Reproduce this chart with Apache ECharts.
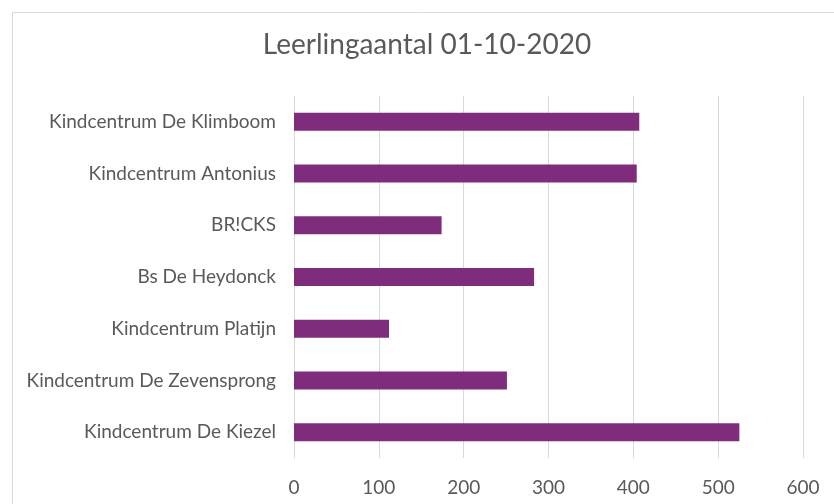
<!DOCTYPE html>
<html>
<head>
<meta charset="utf-8">
<script src="https://cdn.jsdelivr.net/npm/echarts@6/dist/echarts.min.js"></script>
<style>html,body{margin:0;padding:0;background:#fff}#c{width:834px;height:504px}</style>
</head>
<body>
<div id="c"></div>
<script>
const categories = ["Kindcentrum De Klimboom","Kindcentrum Antonius","BR!CKS","Bs De Heydonck","Kindcentrum Platijn","Kindcentrum De Zevensprong","Kindcentrum De Kiezel"];
const values = [407, 404, 174, 283, 112, 251, 525];
const xTicks = [0, 100, 200, 300, 400, 500, 600];
const titleText = "Leerlingaantal 01-10-2020";

const chart = echarts.init(document.getElementById('c'), null, {renderer: 'canvas'});
chart.setOption({
  animation: false,
  backgroundColor: '#fff',
  title: {
    text: titleText,
    left: 422, top: 26, textAlign: 'center',
    textStyle: {fontFamily: 'Lato', fontSize: 28, fontWeight: 'normal', color: '#595959'}
  },
  graphic: [{
    type: 'rect', silent: true,
    shape: {x: 12.5, y: 12.5, width: 900, height: 600},
    style: {fill: 'none', stroke: '#d9d9d9', lineWidth: 1}
  }],
  grid: {left: 294, right: 31, top: 96, bottom: 46, containLabel: false},
  xAxis: {
    type: 'value', min: xTicks[0], max: xTicks[xTicks.length - 1], interval: 100,
    axisLine: {show: false}, axisTick: {show: false},
    splitLine: {show: true, lineStyle: {color: '#d9d9d9', width: 1}},
    axisLabel: {fontFamily: 'Lato', fontSize: 19, color: '#595959', margin: 20}
  },
  yAxis: {
    type: 'category', data: categories, inverse: true,
    axisLine: {show: false}, axisTick: {show: false},
    axisLabel: {fontFamily: 'Lato', fontSize: 19, color: '#595959', margin: 18}
  },
  series: [{
    type: 'bar', data: values, barWidth: 18,
    itemStyle: {color: '#802C7C'}
  }]
});
</script>
</body>
</html>
